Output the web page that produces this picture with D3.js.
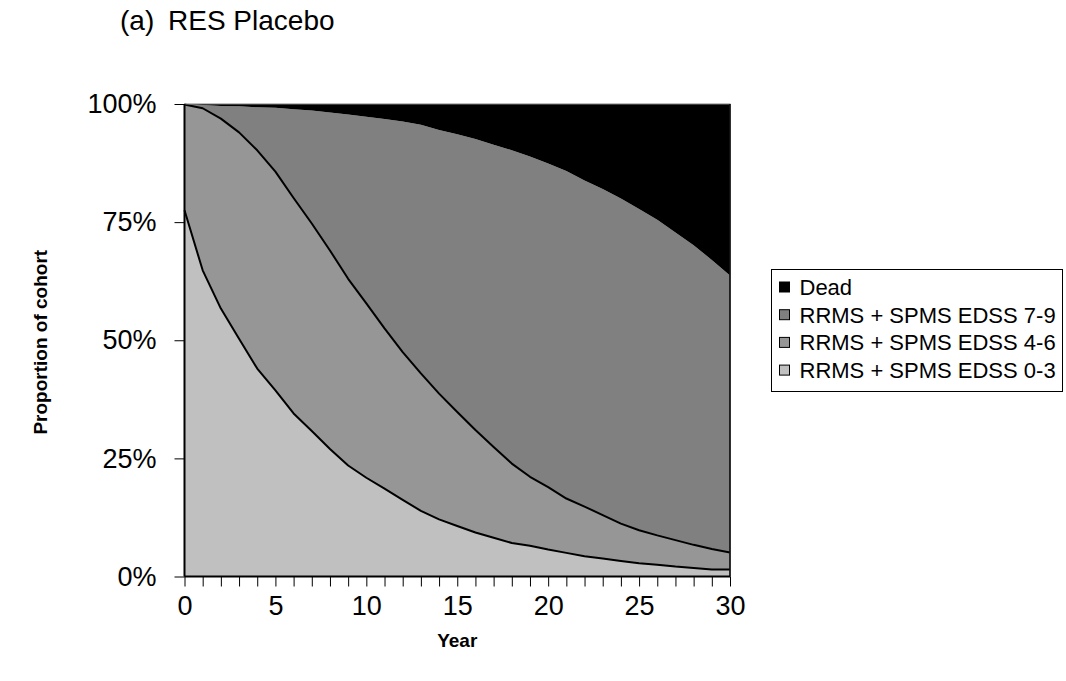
<!DOCTYPE html>
<html>
<head>
<meta charset="utf-8">
<script src="https://cdn.jsdelivr.net/npm/d3@7"></script>
<style>
  html, body { margin: 0; padding: 0; background: #fff; }
  svg { display: block; font-family: Arial, "Liberation Sans", sans-serif; }
</style>
</head>
<body>
<svg id="chart" width="1066" height="681"></svg>
<script>
// ---- data ----
const years = d3.range(0, 31);
const edss03 = [77.5, 64.8, 56.7, 50.3, 44.0, 39.4, 34.5, 30.8, 27.0, 23.5, 20.9, 18.6, 16.2, 13.9, 12.1, 10.7, 9.3, 8.2, 7.1, 6.5, 5.7, 5.0, 4.3, 3.8, 3.3, 2.8, 2.5, 2.1, 1.8, 1.5, 1.5];
const edss46 = [22.4, 34.3, 40.2, 43.7, 46.2, 46.3, 45.6, 43.9, 42.0, 39.5, 36.9, 33.9, 31.3, 29.1, 26.6, 24.1, 21.7, 19.2, 16.8, 14.6, 13.2, 11.5, 10.5, 9.2, 7.9, 7.0, 6.2, 5.6, 4.9, 4.3, 3.6];
const edss79 = [0.1, 0.7, 2.7, 5.5, 9.1, 13.5, 18.8, 23.9, 29.2, 34.8, 39.5, 44.3, 48.8, 52.6, 55.8, 58.8, 61.6, 64.0, 66.3, 67.8, 68.5, 69.3, 69.0, 69.0, 68.8, 68.0, 66.8, 65.1, 63.4, 61.2, 58.6];
const dead   = [0.0, 0.2, 0.4, 0.5, 0.7, 0.8, 1.1, 1.4, 1.8, 2.2, 2.7, 3.2, 3.7, 4.4, 5.5, 6.4, 7.4, 8.6, 9.8, 11.1, 12.6, 14.2, 16.2, 18.0, 20.0, 22.2, 24.5, 27.2, 29.9, 33.0, 36.3];
const seriesKeys = ["edss03", "edss46", "edss79", "dead"];
const seriesLabels = {
  edss03: "RRMS + SPMS EDSS 0-3",
  edss46: "RRMS + SPMS EDSS 4-6",
  edss79: "RRMS + SPMS EDSS 7-9",
  dead: "Dead"
};
const seriesColors = { edss03: "#c0c0c0", edss46: "#969696", edss79: "#808080", dead: "#000000" };
const xTickValues = [0, 5, 10, 15, 20, 25, 30];
const yTickValues = [0, 25, 50, 75, 100];
const legendOrder = ["dead", "edss79", "edss46", "edss03"];

// ---- build table ----
const table = years.map((y, i) => ({
  year: y, edss03: edss03[i], edss46: edss46[i], edss79: edss79[i], dead: dead[i]
}));

const svg = d3.select("#chart");
const m = { left: 184.5, right: 730, top: 104, bottom: 576.5 };
const FONT = "Arial, 'Liberation Sans', sans-serif";

const x = d3.scaleLinear().domain([0, 30]).range([m.left, m.right]);
const y = d3.scaleLinear().domain([0, 100]).range([m.bottom, m.top]);

const stacked = d3.stack().keys(seriesKeys)(table);

const area = d3.area()
  .x(d => x(d.data.year))
  .y0(d => y(d[0]))
  .y1(d => y(d[1]));

svg.append("g").selectAll("path")
  .data(stacked)
  .join("path")
  .attr("d", area)
  .attr("fill", d => seriesColors[d.key]);

// boundary lines (top of EDSS 0-3 and EDSS 4-6)
const line = d3.line().x(d => x(d.data.year)).y(d => y(d[1]));
svg.append("g").selectAll("path")
  .data(stacked.filter(s => s.key === "edss03" || s.key === "edss46"))
  .join("path")
  .attr("d", line)
  .attr("fill", "none")
  .attr("stroke", "#000")
  .attr("stroke-width", 2)
  .attr("stroke-linejoin", "round");

// plot area border
svg.append("rect")
  .attr("x", m.left).attr("y", m.top)
  .attr("width", m.right - m.left).attr("height", m.bottom - m.top)
  .attr("fill", "none").attr("stroke", "#808080").attr("stroke-width", 1);
svg.append("line")
  .attr("x1", m.right).attr("x2", m.right).attr("y1", m.top).attr("y2", m.bottom)
  .attr("stroke", "#000").attr("stroke-width", 1.5);

// axes
const xAxis = d3.axisBottom(x).tickValues(years).tickSize(10)
  .tickFormat(d => xTickValues.includes(d) ? d : "").tickPadding(9);
const gx = svg.append("g").attr("transform", `translate(0,${m.bottom})`).call(xAxis);
gx.select(".domain").attr("stroke", "#000").attr("stroke-width", 2).attr("d", `M${m.left},0H${m.right}`);
gx.selectAll(".tick line").attr("stroke", "#000").attr("stroke-width", 1);
gx.selectAll(".tick text").attr("font-size", 27).attr("fill", "#000").attr("font-family", FONT);

const yAxis = d3.axisLeft(y).tickValues(yTickValues).tickSize(10)
  .tickFormat(d => d + "%").tickPadding(18);
const gy = svg.append("g").attr("transform", `translate(${m.left},0)`).call(yAxis);
gy.select(".domain").attr("stroke", "#000").attr("stroke-width", 2).attr("d", `M0,${m.top}V${m.bottom}`);
gy.selectAll(".tick line").attr("stroke", "#000").attr("stroke-width", 1);
gy.selectAll(".tick text").attr("font-size", 27).attr("fill", "#000").attr("font-family", FONT);

// titles
svg.append("text").attr("x", 120).attr("y", 30).attr("font-size", 28).attr("fill", "#000").text("(a)");
svg.append("text").attr("x", 168).attr("y", 30).attr("font-size", 28).attr("fill", "#000").text("RES Placebo");

svg.append("text").attr("x", (m.left + m.right) / 2).attr("y", 647)
  .attr("text-anchor", "middle").attr("font-size", 19).attr("font-weight", "bold").text("Year");
svg.append("text")
  .attr("transform", `translate(47,${(m.top + m.bottom) / 2 + 2}) rotate(-90)`)
  .attr("text-anchor", "middle").attr("font-size", 19).attr("font-weight", "bold").text("Proportion of cohort");

// legend
const lg = svg.append("g").attr("transform", "translate(771.5,269.5)");
lg.append("rect").attr("x", 0).attr("y", 0).attr("width", 291).attr("height", 122)
  .attr("fill", "#fff").attr("stroke", "#000").attr("stroke-width", 1);
const items = lg.selectAll("g.item").data(legendOrder).join("g")
  .attr("class", "item")
  .attr("transform", (d, i) => `translate(0,${18 + i * 27.7})`);
items.append("rect").attr("x", 8).attr("y", -5.5).attr("width", 10).attr("height", 10)
  .attr("fill", d => seriesColors[d]).attr("stroke", "#000").attr("stroke-width", 1);
items.append("text").attr("x", 28).attr("y", 7.5).attr("font-size", 22).attr("fill", "#000")
  .attr("font-family", FONT)
  .text(d => seriesLabels[d]);
</script>
</body>
</html>
